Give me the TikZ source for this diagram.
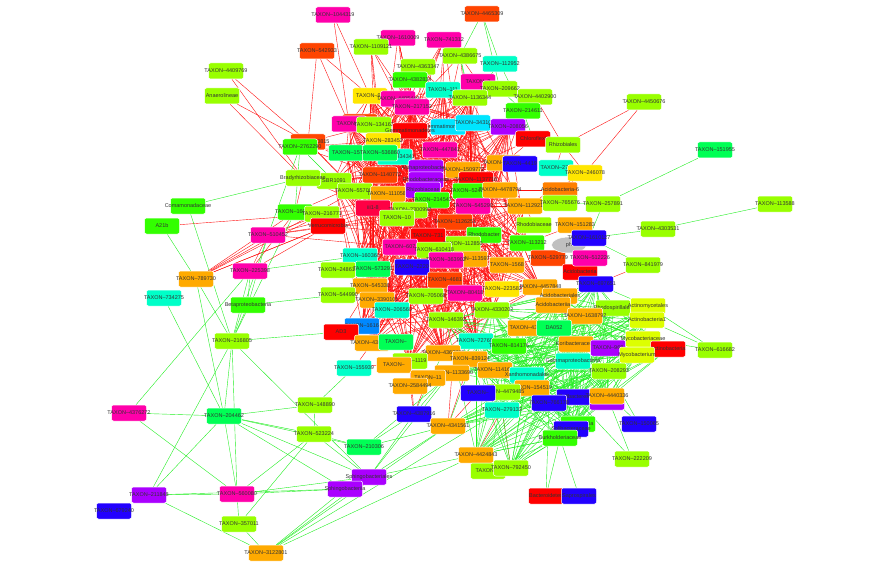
\documentclass[tikz,border=0pt]{standalone}
\usepackage{fontspec}
\setmainfont{Liberation Sans}
\usetikzlibrary{shapes.geometric}
\pgfdeclarelayer{bg}
\pgfsetlayers{bg,main}
\definecolor{clime}{HTML}{99FF00}
\definecolor{cgrn}{HTML}{33FF00}
\definecolor{csprg}{HTML}{00FF55}
\definecolor{caqua}{HTML}{00FFC8}
\definecolor{ccyan}{HTML}{00E5FF}
\definecolor{cmag}{HTML}{FF00AA}
\definecolor{cpurp}{HTML}{AA00FF}
\definecolor{cblue}{HTML}{2200FF}
\definecolor{cred}{HTML}{FF0000}
\definecolor{crorg}{HTML}{FF4400}
\definecolor{corg}{HTML}{FFAA00}
\definecolor{cdorg}{HTML}{FF8000}
\definecolor{cyel}{HTML}{FFE600}
\definecolor{cylgr}{HTML}{DDFF00}
\definecolor{cdblue}{HTML}{0088FF}
\definecolor{ccrim}{HTML}{FF0044}
\definecolor{cgray}{HTML}{C0C0C0}
\definecolor{credge}{HTML}{FF1010}
\definecolor{cgedge}{HTML}{22EE22}
\newcommand{\tlbl}[1]{\makebox[0pt]{#1}}
\tikzset{
  tbox/.style={rounded corners=2pt, minimum width=35pt, minimum height=16pt,
    inner sep=0pt, fill=#1, draw=white, line width=0.5pt, text=black!80,
    font=\fontsize{5.5}{6}\selectfont},
  redge/.style={draw=credge, line width=0.4pt},
  gedge/.style={draw=cgedge, line width=0.4pt}
}
\def\redcore{t92,t4405449,t217152,t134163,tmag,gemmat,gemmatA,t28345,t34310,t111,t1136344,t536860,t15,t434341,t4478415,alphaprot,t1509772,t1140772,purpB,sbr1091,t557001,t1110582,purpC,t2145,t524260,t545290,iii18,t2300992,t10,t1126251,t731,rhodobacter,t112850,t607,t610418,t160360,t363902,t2220,t573291,t4681,t545330,t705068,t804198,t206560,t146392,t4369159,t4367783,t1119,t4447244,t4478794,t1137718,t1129210,t1568,t11359,t113212,t4457848,t223582,t4330202,t727692,t2080,t3390101,t1616}
\def\greencore{t4330202,t432,da052,acidobacteriia,acidobacteriales,t1638792,rhodospir,actinomyc,actinob1,mycobacteriaceae,mycobacterium,actinobacteria,t968,koribac,gammaprot,t208293,t4440336,solibacteres,solibacterales,t766178,t279133,t4479485,t154519,xanthomon,t1141687,t814176,t727692,burkholderiaceae,solibacteraceae,burkholderia,t4424843,t4341561,t792450,t839124,t1133690,t146392,t697651,t150065}
\begin{document}
\begin{tikzpicture}[x=1pt,y=-1pt]
\useasboundingbox (0,0) rectangle (889,567);
% taxa
\foreach \nm/\px/\py/\col/\lb in {
 t1044319/333/15/cmag/TAXON--1044319, t4465309/482/14/crorg/TAXON--4465309,
 t542933/317/51/crorg/TAXON--542933, t1610009/398/38/cmag/TAXON--1610009,
 t741312/444/40/cmag/TAXON--741312, t1109121/371/47/clime/TAXON--1109121,
 t4386675/460/56/clime/TAXON--4386675, t112952/500/64/caqua/TAXON--112952,
 t4363347/418/67/clime/TAXON--4363347, t4382834/410/80/cgrn/TAXON--4382834,
 t2a/478/82/cmag/TAXON--2, t209662/500/89/clime/TAXON--209662,
 t111/443/90/caqua/TAXON--111, t4402900/535/97/clime/TAXON--4402900,
 t92/370/96/cyel/TAXON--92, t1136344/470/98/clime/TAXON--1136344,
 t4405449/398/99/cmag/TAXON--4405449, t217152/412/107/cmag/TAXON--217152,
 t214611/523/111/cgrn/TAXON--214611, t4450676/644/102/clime/TAXON--4450676,
 t4409769/226/71/clime/TAXON--4409769, anaerolineae/222/96/clime/Anaerolineae,
 rorgA/360/122/crorg/{}, tmag/349/124/cmag/TAXON--1,
 t134163/374/125/clime/TAXON--134163, gemmatA/448/127/ccyan/Gemmatimonadetes,
 gemmat/410/131/cred/Gemmatimonadetes, t34310/473/123/ccyan/TAXON--34310,
 t2080/508/127/cpurp/TAXON--208056, chloroflexi/533/139/cred/Chloroflexi,
 rhizobiales/563/145/clime/Rhizobiales, t28345/383/141/cyel/TAXON--283452,
 t0815/308/142/crorg/TAXON--1090815, t2762290/300/147/cgrn/TAXON--2762290,
 t15/346/153/csprg/TAXON--15, t434341/395/157/caqua/TAXON--434341,
 t536860/380/153/csprg/TAXON--536860, t4478415/440/150/cmag/TAXON--447841,
 alphaprot/426/168/cpurp/Alphaproteobacteria, t1509772/463/170/corg/TAXON--1509772,
 t1140772/380/175/crorg/TAXON--1140772, purpB/426/180/cpurp/Rhodobacteraceae,
 t1137718/476/180/cred/TAXON--1137718, sbr1091/334/181/clime/SBR1091,
 bradyrhizo/303/178/clime/Bradyrhizobiaceae, t4447244/504/163/corg/TAXON--4447244,
 bluA/520/164/cblue/TAXON--4419, t279/556/168/caqua/TAXON--279,
 t246078/585/173/cyel/TAXON--246078, t557001/355/191/clime/TAXON--557001,
 t1110582/388/194/corg/TAXON--1110582, purpC/423/190/cpurp/Rhizobiaceae,
 t524260/470/191/cgrn/TAXON--524260, t4478794/500/190/corg/TAXON--4478794,
 acido6/560/190/cdorg/Acidobacteria-6, t2145/432/200/cgrn/TAXON--214543,
 t545290/473/206/cmag/TAXON--545290, t1129210/525/206/corg/TAXON--1129210,
 t765676/560/203/clime/TAXON--765676, t257891/603/204/clime/TAXON--257891,
 comamonad/188/206/cgrn/Comamonadaceae, t160903/295/212/cgrn/TAXON--160903,
 t216771/322/214/clime/TAXON--216771, verruco/328/226/cred/Verrucomicrobia,
 a21b/162/226/cgrn/A21b, iii18/373/208/ccrim/iii1-8,
 t2300992/410/210/clime/TAXON--2300992, t10/397/218/clime/TAXON--10,
 t1126251/455/222/crorg/TAXON--1126251, rhodobiac/534/225/clime/Rhodobiaceae,
 t151283/575/225/corg/TAXON--151283, t510452/268/235/cmag/TAXON--510452,
 t731/428/236/cred/TAXON--731, rhodobacter/484/235/cgrn/Rhodobacter,
 t113212/527/243/cgrn/TAXON--113212, t112850/463/244/clime/TAXON--112850,
 t607/400/247/cmag/TAXON--607, t610418/434/250/clime/TAXON--610418,
 t160360/360/256/caqua/TAXON--160360, t529779/548/258/crorg/TAXON--529779,
 t11359/470/259/corg/TAXON--113597, t363902/446/260/cmag/TAXON--363902,
 t1568/507/265/corg/TAXON--1568, t2220/412/267/cblue/TAXON--2220,
 t248618/338/270/clime/TAXON--248618, t573291/373/269/csprg/TAXON--573291,
 t225398/250/271/cmag/TAXON--225398, acidobacteria/580/272/cred/Acidobacteria,
 t4681/445/280/crorg/TAXON--4681, t789730/196/279/corg/TAXON--789730,
 t545330/370/286/corg/TAXON--545330, t4457848/540/287/corg/TAXON--4457848,
 t223582/502/289/cyel/TAXON--223582, t804198/465/293/cmag/TAXON--80418,
 t705068/426/296/clime/TAXON--705068, t544990/338/295/clime/TAXON--544990,
 t734275/164/298/caqua/TAXON--734275, t3390101/377/300/corg/TAXON--3390101,
 acidobacteriales/560/296/corg/Acidobacteriales, acidobacteriia/553/305/corg/Acidobacteriia,
 betaprot/248/305/cgrn/Betaproteobacteria, t4330202/492/310/clime/TAXON--4330202,
 rhodospir/613/308/clime/Rhodospirillales, actinomyc/648/306/cylgr/Actinomycetales,
 t1638792/585/316/corg/TAXON--1638792, actinob1/647/320/cylgr/Actinobacteria1,
 t206560/392/310/caqua/TAXON--206560, t146392/446/320/clime/TAXON--146392,
 t1616/362/326/cdblue/TAXON--1616, ad3/341/332/cred/AD3,
 t432/525/328/corg/TAXON--432, da052/554/328/csprg/DA052,
 mycobacteriaceae/643/339/cylgr/Mycobacteriaceae, t727692/476/341/caqua/TAXON--727692,
 t4369159/372/343/corg/TAXON--4369159, sprgA/396/342/csprg/TAXON--,
 t216805/232/341/clime/TAXON--216805, koribac/576/344/corg/Koribacteraceae,
 t814176/509/346/cgrn/TAXON--814176, actinobacteria/668/349/cred/Actinobacteria,
 t968/608/348/cpurp/TAXON--968, mycobacterium/637/355/cylgr/Mycobacterium,
 t616682/715/350/clime/TAXON--616682, t4367783/443/353/corg/TAXON--4367783,
 t839124/470/359/corg/TAXON--839124, gammaprot/573/361/caqua/Gammaproteobacteria,
 t1119/410/361/clime/TAXON--1119, orngA/394/365/corg/TAXON--,
 t155939/354/368/caqua/TAXON--155939, t1141687/495/370/corg/TAXON--1141687,
 t208293/609/371/clime/TAXON--208293, t1133690/452/373/corg/TAXON--1133690,
 xanthomon/527/375/caqua/Xanthomonadales, t11/428/378/corg/TAXON--11,
 t2584494/410/386/corg/TAXON--2584494, t154519/532/388/corg/TAXON--154519,
 t4479485/503/392/clime/TAXON--4479485, bluB/478/393/cblue/TAXON--,
 solibacteres/574/397/cblue/Solibacteres, solibacterales/607/402/cpurp/Solibacterales,
 t4440336/607/396/corg/TAXON--4440336, t766178/549/403/cblue/TAXON--766178,
 t148890/315/405/clime/TAXON--148890, t279133/502/410/caqua/TAXON--279133,
 t4376272/129/413/cmag/TAXON--4376272, t204462/224/416/csprg/TAXON--204462,
 t4387916/414/414/cblue/TAXON--4387916, burkholderia/578/424/cgrn/Burkholderia,
 t150065/639/424/cblue/TAXON--150065, t4341561/448/426/corg/TAXON--4341561,
 solibacteraceae/571/429/cblue/Solibacteraceae, burkholderiaceae/560/438/cgrn/Burkholderiaceae,
 t523224/314/434/clime/TAXON--523224, t210306/364/447/csprg/TAXON--210306,
 t4424843/476/455/corg/TAXON--4424843, t222209/632/459/clime/TAXON--222209,
 t2b/488/471/clime/TAXON--2, t792450/511/468/clime/TAXON--792450,
 sphingobacteriales/369/477/cpurp/Sphingobacteriales, sphingobacteriia/345/489/cpurp/Sphingobacteriia,
 t211848/149/495/cpurp/TAXON--211848, t560080/237/494/cmag/TAXON--560080,
 bacteroidetes/546/496/cred/Bacteroidetes, saprospirales/579/496/cblue/Saprospirales,
 t679240/114/511/cblue/TAXON--679240, t357011/239/524/clime/TAXON--357011,
 t3122801/266/553/corg/TAXON--3122801, t151955/715/150/csprg/TAXON--151955,
 t113588/775/204/clime/TAXON--113588, t4303531/658/229/clime/TAXON--4303531,
 t841979/643/265/clime/TAXON--841979}
{\node[tbox=\col] (\nm) at (\px,\py) {\tlbl{\lb}};}
\node[tbox=cgray, ellipse, rounded corners=0pt] (ph) at (569,245) {ph};
\foreach \nm/\px/\py/\col/\lb in {
 t1610127/589/238/cblue/TAXON--1610127, t512226/590/258/cmag/TAXON--512226,
 t697651/596/284/cblue/TAXON--697651}
{\node[tbox=\col] (\nm) at (\px,\py) {\tlbl{\lb}};}
% edges
\begin{pgfonlayer}{bg}
\foreach \a/\b in {t1044319/t92, t1044319/tmag, t542933/tmag, t542933/t0815, t542933/t92,
 t1109121/t217152, t1109121/t4405449, t1109121/t134163, t1610009/t217152, t1610009/gemmat,
 t741312/t217152, t741312/t111, t741312/t28345, t741312/gemmat, t4363347/t111,
 t4363347/t28345, t4363347/t134163, t4382834/t134163, t4382834/gemmat, t4386675/t2a,
 t4386675/t217152, t4409769/t0815, t4409769/bradyrhizo, anaerolineae/t0815,
 anaerolineae/bradyrhizo, t4450676/rhizobiales, t4450676/t246078, t0815/t134163,
 t0815/t536860, t0815/t557001, t0815/iii18, t0815/t1140772, bradyrhizo/sbr1091,
 bradyrhizo/t557001, bradyrhizo/t1140772, bradyrhizo/t2300992, bradyrhizo/iii18,
 t2762290/t536860, t2762290/t1140772, t2762290/t28345, t789730/t510452, t789730/t160903,
 t789730/t216771, t789730/t557001, t789730/iii18, t789730/verruco, t510452/verruco,
 t510452/t216771, t510452/iii18, t510452/t10, t510452/t607, t225398/t160903,
 t225398/verruco, t225398/t510452, a21b/t216771, t160903/bradyrhizo, t160903/t1140772,
 t160903/t2300992, t216771/t1110582, verruco/t2300992, verruco/t731, verruco/t1126251,
 t4387916/t2584494, t4387916/t11, t4387916/t1119, t4341561/t1133690, t4341561/bluB,
 t4341561/t839124, t4424843/t279133, t792450/t279133, t4402900/rhizobiales,
 t214611/t1137718, t214611/t4447244, chloroflexi/t4447244, chloroflexi/t1509772,
 rhizobiales/t279, rhizobiales/t246078, t246078/t1129210, t246078/acido6,
 t841979/t697651, acidobacteria/t697651, ad3/t4369159, ad3/t1616, ad3/t545330,
 t155939/t4369159, t155939/t1119, t2584494/t1119, t248618/t573291, t544990/t545330,
 rhodobiac/t1129210, t151283/t113212, t529779/t1568, acido6/t4478794, t765676/t1129210,
 t1610009/t1140772, t1610009/t2145, t1610009/alphaprot, t741312/t1509772, t741312/t434341,
 t741312/t2145, t1109121/t536860, t1109121/t1110582, t4386675/t4478415, t4386675/t1137718,
 t4363347/alphaprot, t4363347/t1140772, t4382834/t536860, t4382834/t557001,
 t1136344/t2145, t1136344/t524260, t2a/t545290, t2a/t1126251}
{\draw[redge] (\a) -- (\b);}
\foreach \a/\b in {t4465309/t112952, t4465309/t209662, t4465309/t4386675, t112952/t214611,
 t112952/t1136344, t209662/t214611, t4386675/t1136344, t4386675/t34310, t4402900/t214611,
 t4402900/t2080, t214611/chloroflexi, t151955/t257891, t113588/t4303531,
 t4303531/t1610127, t841979/t1610127, t257891/t765676, t257891/t1610127,
 t616682/actinob1, t616682/mycobacteriaceae, t616682/actinomyc, t1610127/t151283,
 t1610127/ph, t222209/t4440336, t222209/solibacteres, t150065/t208293,
 t150065/gammaprot, bacteroidetes/burkholderiaceae, bacteroidetes/t766178,
 saprospirales/burkholderiaceae, burkholderiaceae/t4424843, burkholderiaceae/t792450,
 burkholderiaceae/t2b, sphingobacteriales/t4341561, sphingobacteriales/t4424843,
 sphingobacteriales/t4387916, sphingobacteriales/t204462, sphingobacteriales/t216805,
 sphingobacteriales/t523224, sphingobacteriia/t560080, sphingobacteriia/t204462,
 sphingobacteriia/t211848, t210306/t523224, t210306/t204462, t210306/t4387916,
 t210306/t4341561, t523224/t148890, t523224/t204462, t523224/t357011, t148890/t204462,
 t216805/t204462, t216805/t211848, t216805/t560080, t216805/t225398, t216805/t510452,
 t216805/t789730, t216805/betaprot, t216805/comamonad, t216805/ad3, t216805/t160903,
 t4376272/t204462, t4376272/t560080, t4376272/t225398, t204462/t560080,
 t204462/t211848, t204462/t734275, t204462/t789730, t211848/t560080, t211848/t3122801,
 t560080/t357011, t560080/sphingobacteriales, t560080/t523224, t357011/t3122801,
 t3122801/t4424843, t3122801/t4341561, t3122801/t279133, t3122801/sphingobacteriales,
 t3122801/sphingobacteriia, t789730/a21b, comamonad/bradyrhizo, betaprot/t225398,
 betaprot/t510452, betaprot/t544990, t225398/t160360, t2762290/t510452,
 t2762290/t160903, t2762290/sbr1091, t148890/t155939, t4341561/t4330202,
 t4387916/t727692, t4424843/t814176, t2b/t4479485, t792450/xanthomon,
 t4387916/t4367783, t210306/t1133690, sphingobacteriales/t727692}
{\draw[gedge] (\a) -- (\b);}
% dense core
\foreach \a [count=\i] in \redcore {
  \foreach \b [count=\j] in \redcore {
    \ifnum\j>\i
      \pgfmathtruncatemacro\rnd{mod(mod(\i*\j*3,97)*11+\i*7+\j*13,100)}
      \ifnum\rnd<38 \draw[redge] (\a) -- (\b);\fi
    \fi}}
\foreach \a [count=\i] in \greencore {
  \foreach \b [count=\j] in \greencore {
    \ifnum\j>\i
      \pgfmathtruncatemacro\rnd{mod(mod(\i*\j*3,97)*11+\i*7+\j*13,100)}
      \ifnum\rnd<45 \draw[gedge] (\a) -- (\b);\fi
    \fi}}
\end{pgfonlayer}
\end{tikzpicture}
\end{document}
